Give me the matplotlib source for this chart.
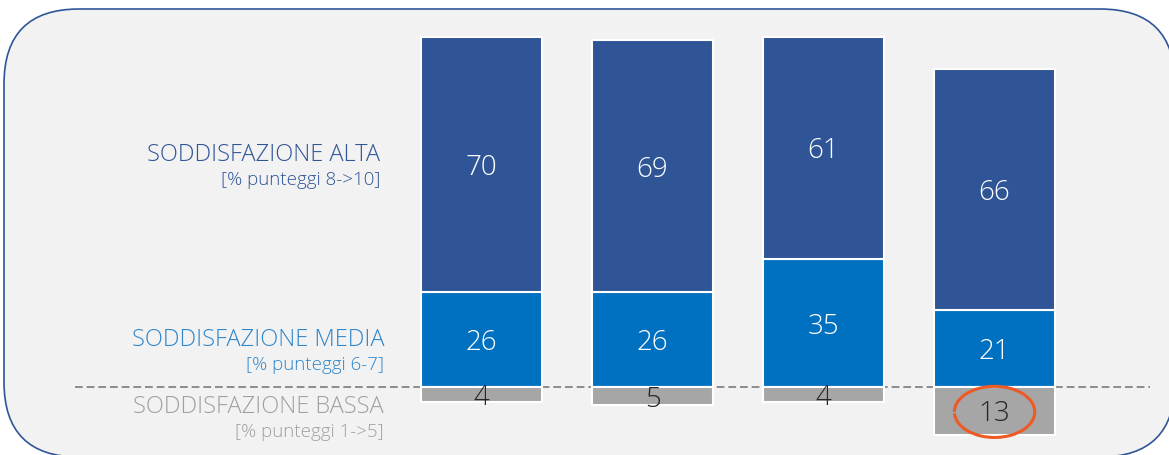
import matplotlib
matplotlib.use("Agg")
import matplotlib.pyplot as plt
from matplotlib.patches import FancyBboxPatch, Arc
from matplotlib.transforms import IdentityTransform

# Data
groups = ["A", "B", "C", "D"]
alta = [70, 69, 61, 66]
media = [26, 26, 35, 21]
bassa = [4, 5, 4, 13]

C_ALTA = "#2F5597"
C_MEDIA = "#0070C0"
C_BASSA = "#A6A6A6"
C_MEDIA_TXT = "#2E86CB"
C_BASSA_TXT = "#A0A0A0"

plt.rcParams["font.family"] = ["Open Sans", "DejaVu Sans"]
WEIGHT = "light"

W, H = 1169, 455
fig = plt.figure(figsize=(W / 100, H / 100), dpi=100)
fig.patch.set_facecolor("white")

# Rounded background panel (in pixel units)
panel = FancyBboxPatch((4, H - 457), 1171, 448,
                       boxstyle="round,pad=0,rounding_size=75",
                       transform=IdentityTransform(),
                       facecolor="#F2F2F2", edgecolor=C_ALTA, linewidth=1.2,
                       zorder=-5)
fig.patches.append(panel)

ax = fig.add_axes([0, 0, 1, 1])
ax.set_zorder(1)
ax.set_facecolor("none")
ax.axis("off")
ax.set_xlim(-2.816, 4.020)
ax.set_ylim(-18.6, 106.0)

x = list(range(len(groups)))
bw = 0.708

# Baseline between medium and low satisfaction
ax.plot([-2.38, 3.91], [0, 0], color="#8C8C8C", linewidth=1.4,
        linestyle=(0, (4, 2)), zorder=1)

ax.bar(x, media, width=bw, bottom=0, color=C_MEDIA, edgecolor="white",
       linewidth=1.5, zorder=2)
ax.bar(x, alta, width=bw, bottom=media, color=C_ALTA, edgecolor="white",
       linewidth=1.5, zorder=2)
ax.bar(x, [-v for v in bassa], width=bw, bottom=0, color=C_BASSA,
       edgecolor="white", linewidth=1.5, zorder=2)

for xi, a, m, b in zip(x, alta, media, bassa):
    ax.text(xi, m + a / 2, f"{a}", ha="center", va="center_baseline",
            color="white", fontsize=20, fontweight=WEIGHT, zorder=3)
    ax.text(xi, m / 2, f"{m}", ha="center", va="center_baseline",
            color="white", fontsize=20, fontweight=WEIGHT, zorder=3)
    ax.text(xi, -b / 2, f"{b}", ha="center", va="center_baseline",
            color="#262626", fontsize=20, fontweight=WEIGHT, zorder=3)

# Highlight on the last low-satisfaction value
ax.add_patch(Arc((3, -6.8), 0.47, 14.0, angle=0, theta1=-120, theta2=185,
                 color="#EE5A24", linewidth=2.2, zorder=4))


def ftext(px, py, s, color, size):
    fig.text(px / W, 1 - py / H, s, ha="right", va="center", color=color,
             fontsize=size, fontweight=WEIGHT, zorder=5)


ftext(380, 155, "SODDISFAZIONE ALTA", C_ALTA, 17)
ftext(380, 180, "[% punteggi 8->10]", C_ALTA, 13.5)
ftext(384, 340, "SODDISFAZIONE MEDIA", C_MEDIA_TXT, 17)
ftext(384, 365, "[% punteggi 6-7]", C_MEDIA_TXT, 13.5)
ftext(384, 407, "SODDISFAZIONE BASSA", C_BASSA_TXT, 17)
ftext(384, 432, "[% punteggi 1->5]", C_BASSA_TXT, 13.5)

fig.savefig("out.png", dpi=100, facecolor=fig.get_facecolor())
